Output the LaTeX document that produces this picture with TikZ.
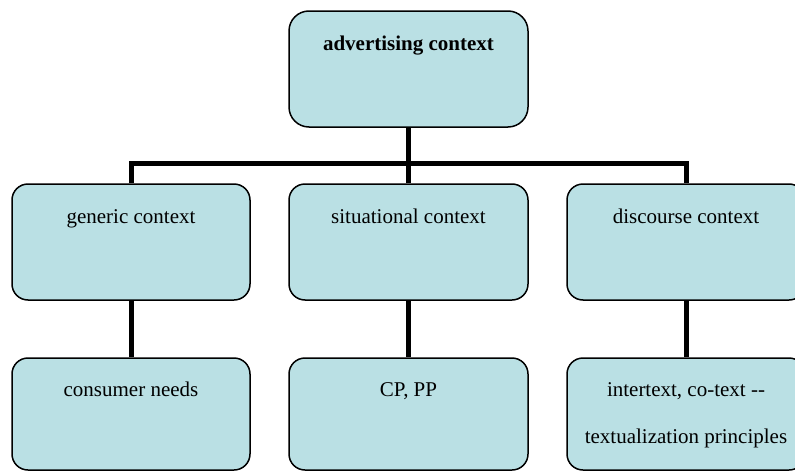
\documentclass[tikz,border=0pt]{standalone}
\usepackage{fontspec}
\setmainfont{Liberation Serif}
\begin{document}
\begin{tikzpicture}[x=1pt,y=-1pt,
  box/.style={draw=black,line width=1.5pt,fill=boxfill,rounded corners=16pt,
    minimum width=238pt,minimum height=116pt,inner sep=0pt},
  lbl/.style={font=\fontsize{21}{47}\selectfont,text=black,align=center,
    inner sep=0pt,anchor=base},
  conn/.style={draw=black,line width=5pt}]
\definecolor{boxfill}{RGB}{186,224,228}
\useasboundingbox (0,0) rectangle (795,471);
\coordinate (bar) at (408.5,163);
% boxes
\node[box,minimum width=239pt,rounded corners=20pt] (top) at (408.5,69) {};
\node[box] (gen) at (131,242) {};
\node[box,minimum width=239pt] (sit) at (408.5,242) {};
\node[box] (disc) at (686,242) {};
\node[box,minimum height=112pt] (need) at (131,414) {};
\node[box,minimum width=239pt,minimum height=112pt] (cp) at (408.5,414) {};
\node[box,minimum height=112pt] (inter) at (686,414) {};
% tree lines
\draw[conn] (top.south) -- (top.south |- bar);
\draw[conn] (gen.north) -- (gen.north |- bar) -- (disc.north |- bar) -- (disc.north);
\draw[conn] (sit.north) -- (sit.north |- bar);
\draw[conn] (gen.south) -- (need.north);
\draw[conn] (sit.south) -- (cp.north);
\draw[conn] (disc.south) -- (inter.north);
% labels (base anchor of a two-line label sits on its last line)
\node[lbl,font=\fontsize{21}{47}\selectfont\bfseries] (topT) at (408.5,50) {advertising context};
\node[lbl] (genT) at (131,223) {generic context};
\node[lbl] (sitT) at (408.5,223) {situational context};
\node[lbl] (discT) at (686,223) {discourse context};
\node[lbl] (needT) at (131,396) {consumer needs};
\node[lbl] (cpT) at (408.5,396) {CP, PP};
\node[lbl] (interT) at (686,443) {intertext, co-text {-}{-}\\textualization principles};
\end{tikzpicture}
\end{document}
